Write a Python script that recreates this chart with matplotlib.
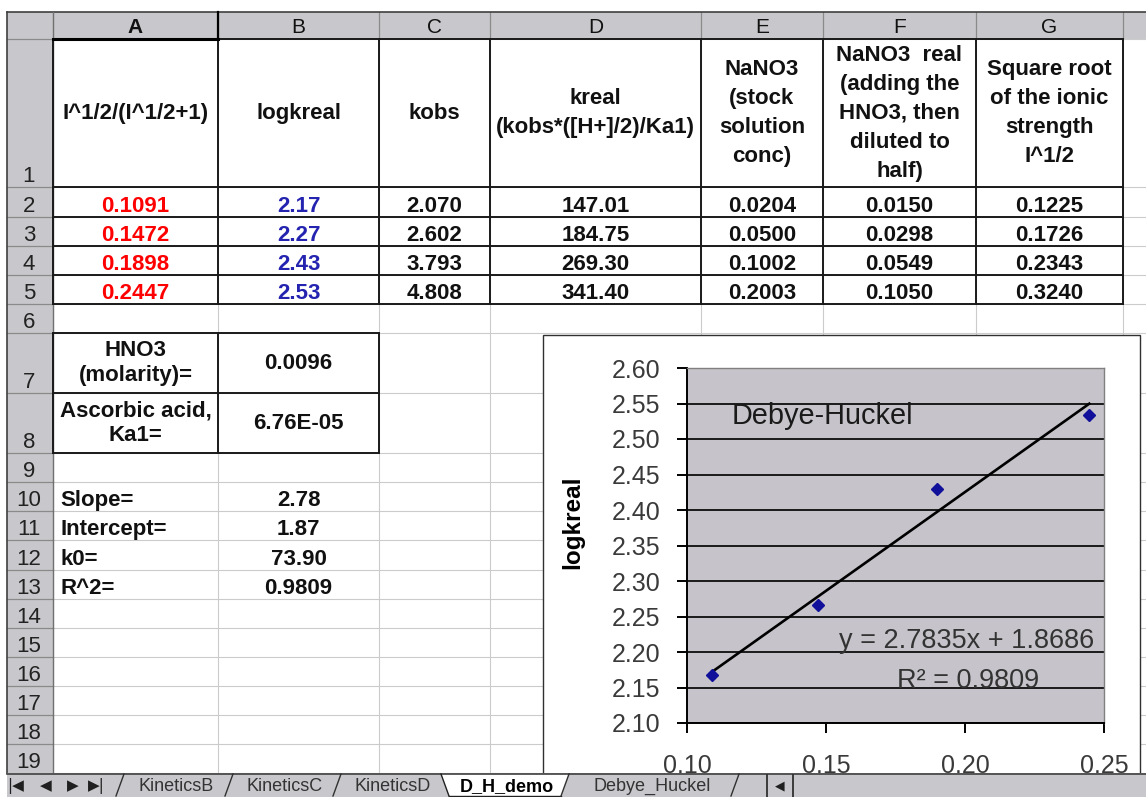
import numpy as np
import matplotlib.pyplot as plt
from matplotlib.patches import Rectangle, Polygon
from matplotlib.ticker import FormatStrFormatter

plt.rcParams['font.family'] = ['Liberation Sans', 'DejaVu Sans']

#################################################################
# data (read from the sheet)

col_letters = ['A', 'B', 'C', 'D', 'E', 'F', 'G']
headers = ['I^1/2/(I^1/2+1)', 'logkreal', 'kobs',
           'kreal\n(kobs*([H+]/2)/Ka1)',
           'NaNO3\n(stock\nsolution\nconc)',
           'NaNO3  real\n(adding the\nHNO3, then\ndiluted to\nhalf)',
           'Square root\nof the ionic\nstrength\nI^1/2']

ionic_x = [0.1091, 0.1472, 0.1898, 0.2447]
logkreal = [2.1674, 2.2666, 2.4302, 2.5333]
kobs = [2.070, 2.602, 3.793, 4.808]
kreal = [147.01, 184.75, 269.30, 341.40]
nano3_stock = [0.0204, 0.0500, 0.1002, 0.2003]
nano3_real = [0.0150, 0.0298, 0.0549, 0.1050]
sqrt_ionic = [0.1225, 0.1726, 0.2343, 0.3240]

hno3 = 0.0096
ka1 = 6.76e-05
slope = 2.7835
intercept = 1.8686
k0 = 73.90
r2 = 0.9809

x_ticks = [0.10, 0.15, 0.20, 0.25]
y_ticks = [2.10, 2.15, 2.20, 2.25, 2.30, 2.35, 2.40, 2.45, 2.50, 2.55, 2.60]

sheet_tabs = ['KineticsB', 'KineticsC', 'KineticsD', 'D_H_demo', 'Debye_Huckel']

#################################################################
# sheet layout in pixels

W, H = 1146, 797
col_x = [53, 218, 379, 490, 701, 823, 976, 1123, 1146]
row_y = [39, 187, 217, 246, 275, 304, 333, 393, 453, 482, 511, 540,
         570, 599, 628, 657, 686, 715, 744, 773]

HEAD_BG = '#c8c8cc'
GRID = '#cbcbcb'
INK = '#111111'
CELL_FS = 16


def cx(c):
    return (col_x[c] + col_x[c + 1]) / 2


def cy(r):
    return (row_y[r - 1] + row_y[r]) / 2


def base(r):
    return row_y[r] - 5


fig = plt.figure(figsize=(W / 100, H / 100), dpi=100)
sh = fig.add_axes([0, 0, 1, 1])
sh.set_xlim(0, W)
sh.set_ylim(H, 0)
sh.axis('off')

# headers background
sh.add_patch(Rectangle((7, 12), W - 7, 27, fc=HEAD_BG, ec='none'))
sh.add_patch(Rectangle((7, 12), 46, 773 - 12, fc=HEAD_BG, ec='none'))

# light grid of empty cells
for x in col_x[:-1]:
    sh.plot([x, x], [39, 773], color=GRID, lw=0.8)
for y in row_y:
    sh.plot([53, W], [y, y], color=GRID, lw=0.8)

# header separators
for x in col_x[1:-1]:
    sh.plot([x, x], [12, 39], color='#8a8a8a', lw=0.9)
for y in row_y[:-1]:
    sh.plot([7, 53], [y, y], color='#8a8a8a', lw=0.9)
sh.plot([7, 7], [12, 773], color='#404040', lw=1.2)
sh.plot([7, W], [12, 12], color='#404040', lw=1.2)
sh.plot([53, 53], [12, 773], color='#707070', lw=1.0)

# black borders of the tables
for x in col_x[:8]:
    sh.plot([x, x], [row_y[0], row_y[5]], color='#1a1a1a', lw=1.4)
for y in row_y[:6]:
    sh.plot([53, col_x[7]], [y, y], color='#1a1a1a', lw=1.4)
for x in col_x[:3]:
    sh.plot([x, x], [row_y[6], row_y[8]], color='#1a1a1a', lw=1.4)
for y in row_y[6:9]:
    sh.plot([53, col_x[2]], [y, y], color='#1a1a1a', lw=1.4)
sh.plot([53, 218], [39, 39], color='black', lw=2.2)
sh.plot([218, 218], [12, 39], color='black', lw=1.6)

# column letters and row numbers
for i, letter in enumerate(col_letters):
    sh.text(cx(i), 33, letter, ha='center', va='baseline', fontsize=15,
            color=INK, fontweight='bold' if i == 0 else 'normal')
for r in range(1, 20):
    sh.text(29, base(r), str(r), ha='center', va='baseline', fontsize=16,
            color='#222222')

# row 1 headers
for i, txt in enumerate(headers):
    sh.text(cx(i), cy(1), txt, ha='center', va='center', fontsize=CELL_FS,
            fontweight='bold', color=INK, linespacing=1.5, multialignment='center')

# rows 2-5
columns = [(ionic_x, '%.4f', '#ff0000'), (logkreal, '%.2f', '#2424b0'),
           (kobs, '%.3f', INK), (kreal, '%.2f', INK), (nano3_stock, '%.4f', INK),
           (nano3_real, '%.4f', INK), (sqrt_ionic, '%.4f', INK)]
for c, (vals, fmt, colr) in enumerate(columns):
    for k, v in enumerate(vals):
        sh.text(cx(c), base(k + 2), fmt % v, ha='center', va='baseline',
                fontsize=CELL_FS, fontweight='bold', color=colr)

# constants block
sh.text(cx(0), cy(7), 'HNO3\n(molarity)=', ha='center', va='center', fontsize=CELL_FS,
        fontweight='bold', color=INK, linespacing=1.2)
sh.text(cx(1), cy(7), '%.4f' % hno3, ha='center', va='center', fontsize=CELL_FS,
        fontweight='bold', color=INK)
sh.text(cx(0), cy(8), 'Ascorbic acid,\nKa1=', ha='center', va='center', fontsize=CELL_FS,
        fontweight='bold', color=INK, linespacing=1.2)
sh.text(cx(1), cy(8), '%.2E' % ka1, ha='center', va='center', fontsize=CELL_FS,
        fontweight='bold', color=INK)

fit_rows = [('Slope=', '%.2f' % slope), ('Intercept=', '%.2f' % intercept),
            ('k0=', '%.2f' % k0), ('R^2=', '%.4f' % r2)]
for k, (lab, val) in enumerate(fit_rows):
    sh.text(60, base(10 + k), lab, ha='left', va='baseline', fontsize=CELL_FS,
            fontweight='bold', color=INK)
    sh.text(cx(1), base(10 + k), val, ha='center', va='baseline', fontsize=CELL_FS,
            fontweight='bold', color=INK)

# chart object frame
sh.add_patch(Rectangle((543, 335), 1140 - 543, H - 335, fc='white', ec='#303030',
                       lw=1.0, zorder=5))

#################################################################
# embedded chart

ax = fig.add_axes([687 / W, (H - 723) / H, (1104 - 687) / W, (723 - 368) / H])
ax.set_facecolor('#c6c4ca')
ax.set_xlim(0.10, 0.25)
ax.set_ylim(2.10, 2.60)
ax.set_xticks(x_ticks)
ax.set_yticks(y_ticks)
ax.xaxis.set_major_formatter(FormatStrFormatter('%.2f'))
ax.yaxis.set_major_formatter(FormatStrFormatter('%.2f'))
ax.grid(axis='y', color='#1a1a1a', lw=1.4)
ax.set_axisbelow(True)
for s in ['top', 'right']:
    ax.spines[s].set_color('#808080')
    ax.spines[s].set_linewidth(1.0)
for s in ['left', 'bottom']:
    ax.spines[s].set_color('black')
    ax.spines[s].set_linewidth(1.4)
ax.tick_params(direction='out', length=7, width=1.4, color='black',
               labelsize=18, labelcolor='#3a3a3a')
ax.tick_params(axis='y', pad=12)
ax.tick_params(axis='x', pad=15)

trend_x = np.array([min(ionic_x), max(ionic_x)])
ax.plot(trend_x, slope * trend_x + intercept, color='black', lw=1.9, zorder=3)
ax.plot(ionic_x, logkreal, linestyle='none', marker='D', ms=6, color='#10109a',
        zorder=4)

ax.set_ylabel('logkreal', fontsize=17.5, fontweight='bold', va='center')
ax.yaxis.set_label_coords(-0.273, 0.565)

ax.text(0.108, 0.842, 'Debye-Huckel', transform=ax.transAxes, fontsize=20.8,
        ha='left', va='baseline', color='#1a1a1a')
ax.text(0.671, 0.211, 'y = %.4fx + %.4f' % (slope, intercept), transform=ax.transAxes,
        fontsize=19.5, ha='center', va='baseline', color='#333333')
ax.text(0.674, 0.0986, 'R\u00b2 = %.4f' % r2, transform=ax.transAxes,
        fontsize=19.5, ha='center', va='baseline', color='#333333')

#################################################################
# sheet tab bar

tb = fig.add_axes([0, 0, 1, 24 / H])
tb.set_xlim(0, W)
tb.set_ylim(797, 773)
tb.axis('off')
tb.set_zorder(10)
tb.add_patch(Rectangle((7, 773), W - 7, 24, fc=HEAD_BG, ec='none'))
tb.plot([7, W], [773.5, 773.5], color='#404040', lw=1.2)

for x, s in zip([16, 46, 73, 96], ['|\u25c0', '\u25c0', '\u25b6', '\u25b6|']):
    tb.text(x, 786, s, ha='center', va='center', fontsize=11, color='#202020',
            family='DejaVu Sans')

tab_edges = [120, 229, 337, 445, 565, 735]
for i, name in enumerate(sheet_tabs):
    x0, x1 = tab_edges[i], tab_edges[i + 1]
    if name == 'D_H_demo':
        tb.add_patch(Polygon([(x0 - 4, 774), (x0 + 4, 796), (x1 - 4, 796), (x1 + 4, 774)],
                             closed=True, fc='white', ec='none'))
        tb.plot([x0 - 4, x0 + 4], [774, 796], color='#202020', lw=1.0)
        tb.plot([x0 + 4, x1 - 4], [796, 796], color='#202020', lw=1.0)
    tb.text((x0 + x1) / 2 + 2, 791, name, ha='center', va='baseline', fontsize=13,
            color='black' if name == 'D_H_demo' else '#333333',
            fontweight='bold' if name == 'D_H_demo' else 'normal')
for x in tab_edges:
    if x == 445:
        continue
    tb.plot([x - 4, x + 4], [796, 774], color='#303030', lw=1.0)

tb.plot([767, 767], [775, 797], color='#303030', lw=1.3)
tb.plot([793, 793], [775, 797], color='#303030', lw=1.3)
tb.text(780, 786, '\u25c0', ha='center', va='center', fontsize=9, color='#202020',
        family='DejaVu Sans')

fig.savefig('out.png', dpi=100)
